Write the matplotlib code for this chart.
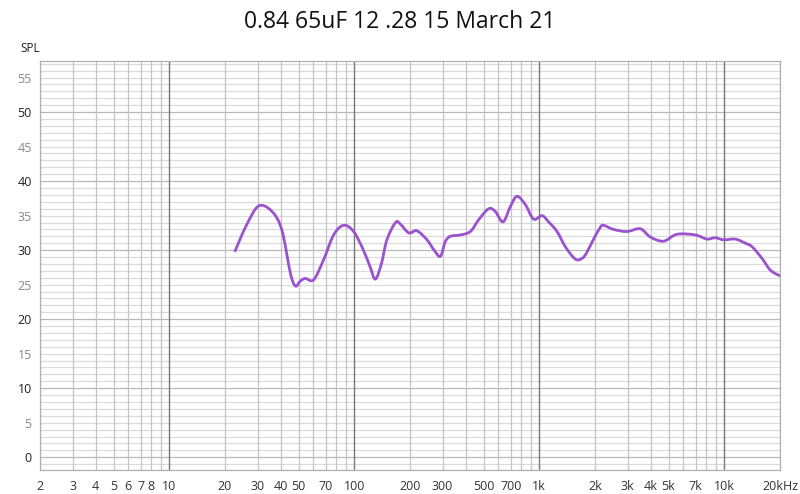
import matplotlib
matplotlib.use("Agg")
import matplotlib.pyplot as plt
from matplotlib.path import Path
from matplotlib.patches import PathPatch
import numpy as np

title = "0.84 65uF 12 .28 15 March 21"

freq = [22.7, 26.0, 30.4, 35.9, 40.6, 45.1, 48.0, 51.0, 54.3, 60.3, 68.2, 77.3,
        87.5, 99.1, 112, 122, 130, 140, 150, 167, 177, 197, 218, 247, 270, 292,
        310, 330, 374, 424, 470, 532, 578, 637, 697, 757, 840, 931, 1035,
        1122, 1247, 1382, 1565, 1700, 1800, 1966, 2136, 2226, 2521, 2979, 3516,
        3981, 4699, 5550, 6970, 8055, 8934, 9910, 11460, 13000, 14120, 15990,
        17740, 19900]
spl = [29.9, 33.5, 36.4, 35.6, 32.9, 26.7, 24.8, 25.5, 25.9, 25.7, 28.6, 32.2,
       33.6, 32.7, 30.0, 27.5, 25.8, 28.0, 31.5, 34.0, 33.8, 32.5, 32.8, 31.5,
       30.0, 29.1, 31.2, 32.0, 32.2, 32.7, 34.4, 36.0, 35.6, 34.1, 36.3, 37.8,
       36.6, 34.5, 35.0, 34.1, 32.7, 30.5, 28.7, 28.8, 29.6, 31.6, 33.3, 33.6,
       33.0, 32.7, 33.1, 31.9, 31.3, 32.3, 32.2, 31.6, 31.8, 31.5, 31.6, 31.0,
       30.5, 28.8, 27.1, 26.3]

xtick_vals = [2, 3, 4, 5, 6, 7, 8, 10, 20, 30, 40, 50, 70, 100, 200, 300, 500,
              700, 1000, 2000, 3000, 4000, 5000, 7000, 10000, 20000]
xtick_labels = ["2", "3", "4", "5", "6", "7", "8", "10", "20", "30", "40", "50",
                "70", "100", "200", "300", "500", "700", "1k", "2k", "3k", "4k",
                "5k", "7k", "10k", "20kHz"]
ytick_vals = [0, 5, 10, 15, 20, 25, 30, 35, 40, 45, 50, 55]

plt.rcParams['font.family'] = ['Open Sans', 'DejaVu Sans']

fig = plt.figure(figsize=(8, 4.94), dpi=100)
ax = fig.add_axes([40/800, 1 - 470/494, 740/800, 409/494])
ax.set_xscale('log')
ax.set_xlim(2, 20000)
ax.set_ylim(-1.85, 57.4)

# grid lines
for d in range(-2, 58):
    major = (d % 10 == 0)
    ax.axhline(d, color='#b8b8b8' if major else '#dcdcdc', lw=0.9, zorder=0)
for dec in [1, 10, 100, 1000, 10000]:
    for m in range(2, 10):
        f = m * dec
        if 2 <= f <= 20000:
            ax.axvline(f, color='#c4c4c4', lw=0.9, zorder=0)
for f in [10, 100, 1000, 10000]:
    ax.axvline(f, color='#777777', lw=1.0, zorder=0.5)

# smooth curve through the points (Catmull-Rom as cubic Bezier path)
lx = np.log10(np.array(freq, dtype=float))
yy = np.array(spl, dtype=float)
n = len(lx)
verts = [(lx[0], yy[0])]
codes = [Path.MOVETO]
for i in range(n - 1):
    p0 = (lx[max(i - 1, 0)], yy[max(i - 1, 0)])
    p1 = (lx[i], yy[i])
    p2 = (lx[i + 1], yy[i + 1])
    p3 = (lx[min(i + 2, n - 1)], yy[min(i + 2, n - 1)])
    c1 = (p1[0] + (p2[0] - p0[0]) / 6, p1[1] + (p2[1] - p0[1]) / 6)
    c2 = (p2[0] - (p3[0] - p1[0]) / 6, p2[1] - (p3[1] - p1[1]) / 6)
    verts += [c1, c2, p2]
    codes += [Path.CURVE4] * 3
verts = [(10 ** vx, vy) for vx, vy in verts]
patch = PathPatch(Path(verts, codes), facecolor='none', edgecolor='#9a52cf',
                  lw=2.0, capstyle='round', joinstyle='round', zorder=3)
ax.add_patch(patch)

ax.set_xticks(xtick_vals)
ax.set_xticklabels(xtick_labels)
ax.xaxis.set_minor_locator(matplotlib.ticker.NullLocator())
ax.set_yticks(ytick_vals)
ax.set_yticklabels([str(v) for v in ytick_vals])
ax.tick_params(axis='both', length=0, labelsize=9, colors='#333333')
ax.tick_params(axis='x', pad=7)
ax.tick_params(axis='y', pad=6)
for lab, v in zip(ax.get_yticklabels(), ytick_vals):
    lab.set_color('#222222' if v % 10 == 0 else '#888888')

for s in ax.spines.values():
    s.set_color('#b0b0b0')
    s.set_linewidth(0.9)

fig.text(0.5, 1 - 22/494, title, ha='center', va='center', fontsize=16.5,
         color='#111111')
fig.text(30/800, 1 - 48/494, "SPL", ha='center', va='center', fontsize=8.5,
         color='#222222')

fig.savefig("out.png", dpi=100)
